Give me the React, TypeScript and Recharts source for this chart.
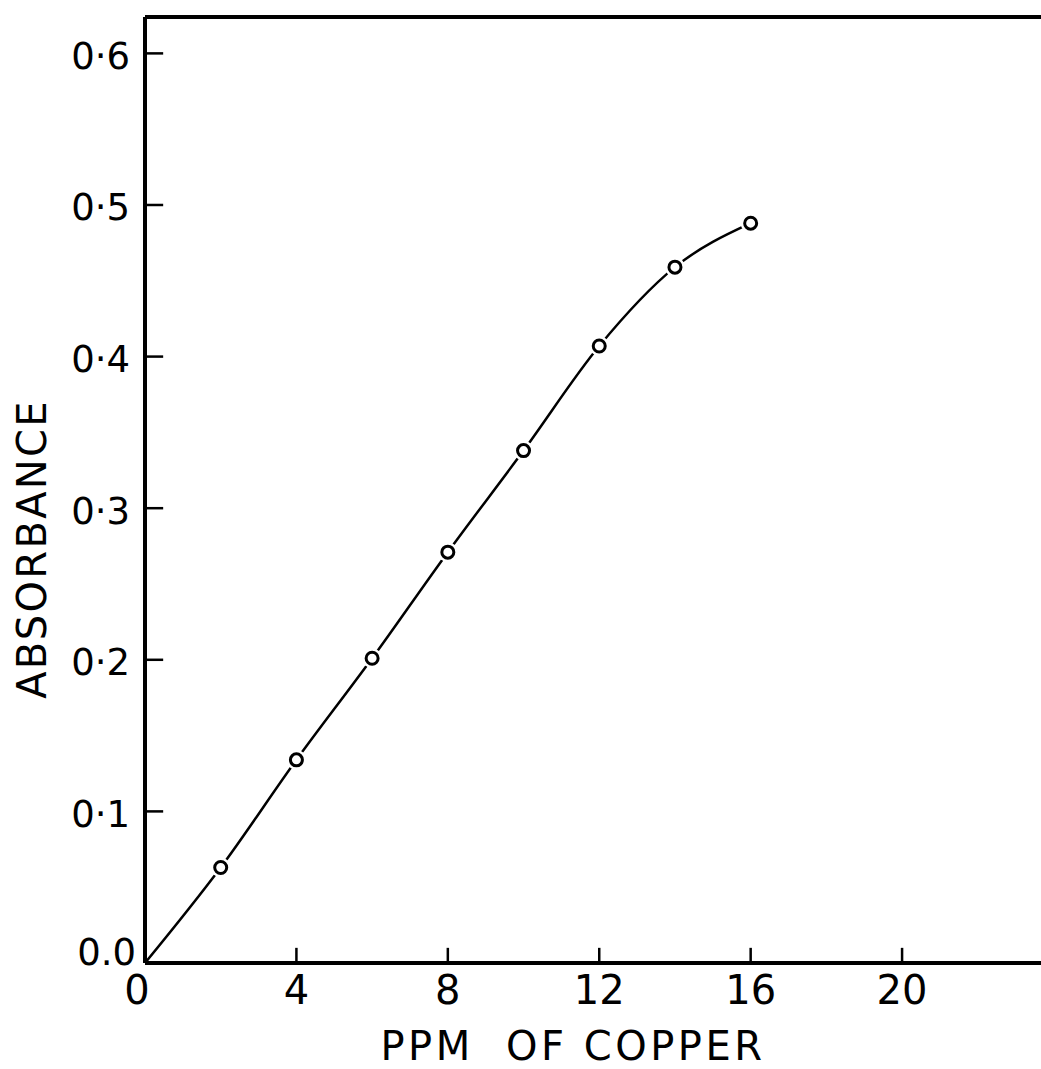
import { LineChart, Line, XAxis, YAxis, ReferenceLine, Label } from 'recharts';

// Calibration curve: absorbance vs. copper concentration
const ppm = [0, 2, 4, 6, 8, 10, 12, 14, 16];
const absorbance = [0, 0.063, 0.134, 0.201, 0.271, 0.338, 0.407, 0.459, 0.488];
const xTicks = [0, 4, 8, 12, 16, 20];
const yTicks = [0, 0.1, 0.2, 0.3, 0.4, 0.5, 0.6];
const xMax = 23.67;
const yMax = 0.624;

const data = ppm.map((p, i) => ({ ppm: p, absorbance: absorbance[i] }));

const FONT = '"DejaVu Sans", sans-serif';

// inward tick lengths, in data units
const yTickLen = 0.48;
const xTickLen = 0.01;

const formatY = (v: number) => (v === 0 ? '0.0' : `0·${Math.round(v * 10)}`);

const YTick = (props: any) => {
  const { x, y, payload } = props;
  const zero = payload.value === 0;
  return (
    <text
      x={x + (zero ? 6 : 0)}
      y={y + (zero ? -11 : 2)}
      dy="0.36em"
      textAnchor="end"
      fontSize={37}
      fontFamily={FONT}
      fill="#000"
    >
      {formatY(payload.value)}
    </text>
  );
};

const XTick = (props: any) => {
  const { x, y, payload } = props;
  const zero = payload.value === 0;
  return (
    <text
      x={x + (zero ? -8 : 0)}
      y={y}
      dy="0.72em"
      textAnchor="middle"
      fontSize={40}
      fontFamily={FONT}
      fill="#000"
    >
      {payload.value}
    </text>
  );
};

// open circles with a white halo so the curve stops short of each marker
const Marker = (props: any) => {
  const { cx, cy, index } = props;
  if (index === 0) return <g key="m0" />;
  return (
    <g key={`m${index}`}>
      <circle cx={cx} cy={cy} r={10} fill="#fff" />
      <circle cx={cx} cy={cy} r={6} fill="#fff" stroke="#000" strokeWidth={3} />
    </g>
  );
};

export default function App() {
  return (
    <div style={{ position: 'absolute', left: 0, top: 0, background: '#fff' }}>
      <LineChart
        width={1041}
        height={1069}
        data={data}
        margin={{ top: 17, right: 0, left: 0, bottom: 0 }}
      >
        <XAxis
          dataKey="ppm"
          type="number"
          domain={[0, xMax]}
          ticks={xTicks}
          allowDataOverflow
          height={106}
          tickSize={0}
          tickMargin={12}
          tick={<XTick />}
          tickLine={false}
          axisLine={{ stroke: '#000', strokeWidth: 4 }}
        >
          <Label
            content={({ viewBox }: any) => (
              <text
                x={viewBox.x + viewBox.width / 2 - 20}
                y={viewBox.y + 97}
                textAnchor="middle"
                fontSize={40}
                letterSpacing={3.5}
                fontFamily={FONT}
                fill="#000"
                style={{ whiteSpace: 'pre' }}
              >
                {'PPM  OF COPPER'}
              </text>
            )}
          />
        </XAxis>
        <YAxis
          type="number"
          domain={[0, yMax]}
          ticks={yTicks}
          allowDataOverflow
          width={145}
          tickSize={0}
          tickMargin={15}
          tick={<YTick />}
          tickLine={false}
          axisLine={{ stroke: '#000', strokeWidth: 4 }}
        >
          <Label
            content={({ viewBox }: any) => {
              const cx = 32;
              const cy = viewBox.y + viewBox.height / 2 + 59;
              return (
                <text
                  x={cx}
                  y={cy}
                  dy="0.36em"
                  transform={`rotate(-90, ${cx}, ${cy})`}
                  textAnchor="middle"
                  fontSize={40}
                  letterSpacing={2.3}
                  fontFamily={FONT}
                  fill="#000"
                >
                  ABSORBANCE
                </text>
              );
            }}
          />
        </YAxis>
        <ReferenceLine y={yMax} stroke="#000" strokeWidth={4} />
        {yTicks.filter((v) => v > 0).map((v) => (
          <ReferenceLine
            key={`yt${v}`}
            segment={[{ x: 0, y: v }, { x: yTickLen, y: v }]}
            stroke="#000"
            strokeWidth={2.5}
          />
        ))}
        {xTicks.filter((v) => v > 0).map((v) => (
          <ReferenceLine
            key={`xt${v}`}
            segment={[{ x: v, y: 0 }, { x: v, y: xTickLen }]}
            stroke="#000"
            strokeWidth={2.5}
          />
        ))}
        <Line
          dataKey="absorbance"
          type="monotone"
          stroke="#000"
          strokeWidth={2.5}
          dot={<Marker />}
          activeDot={false}
          isAnimationActive={false}
        />
      </LineChart>
    </div>
  );
}
